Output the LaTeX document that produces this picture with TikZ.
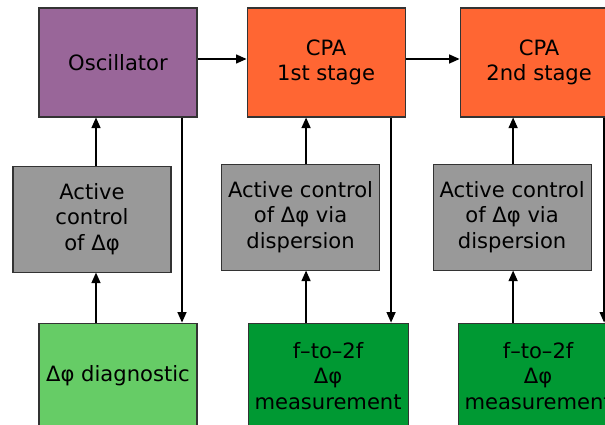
\documentclass[tikz,border=0pt]{standalone}
\usepackage{fontspec}
\setmainfont{DejaVu Sans}
\usepackage{xcolor}
\definecolor{plum}{HTML}{996699}
\definecolor{amp}{HTML}{FF6633}
\definecolor{ctrl}{HTML}{999999}
\definecolor{diaglight}{HTML}{66CC66}
\definecolor{diagdark}{HTML}{009933}
\definecolor{rim}{HTML}{333333}
\usetikzlibrary{positioning,arrows.meta}
\tikzset{
  block/.style={draw=rim, line width=0.6pt, align=center, font=\fontsize{12}{14.5}\selectfont,
    minimum width=3.16cm, inner sep=2pt},
  stage/.style={block, minimum height=2.18cm},
  osci/.style={stage, fill=plum},
  cpa/.style={stage, fill=amp},
  control/.style={block, fill=ctrl, minimum height=2.12cm},
  diag/.style={block, fill=diagdark, minimum height=2.12cm},
  edge/.style={-{Triangle[length=2.1mm,width=1.8mm]}, black, line width=0.8pt},
}
\begin{document}
\begin{tikzpicture}
  \useasboundingbox (0,0) rectangle (12.1,-8.5);
  % top row
  \node[osci] (osc) at (2.36,-1.25) {Oscillator};
  \node[cpa, right=0.98cm of osc] (cpaA) {CPA\\1st stage};
  \node[cpa, right=1.08cm of cpaA] (cpaB) {CPA\\2nd stage};
  % control boxes
  \node[control, below=0.96cm of osc, xshift=-0.52cm] (ctlO) {Active\\control\\of Δφ};
  \node[control, below=0.92cm of cpaA, xshift=-0.51cm] (ctlA) {Active control\\of Δφ via\\dispersion};
  \node[control, below=0.92cm of cpaB, xshift=-0.54cm] (ctlB) {Active control\\of Δφ via\\dispersion};
  % diagnostics
  \node[diag, fill=diaglight, below=1.0cm of ctlO, xshift=0.52cm] (dgO) {Δφ diagnostic};
  \node[diag, minimum width=3.2cm, below=1.04cm of ctlA, xshift=0.55cm] (dgA) {f–to–2f\\Δφ\\measurement};
  \node[diag, minimum width=3.2cm, below=1.04cm of ctlB, xshift=0.52cm] (dgB) {f–to–2f\\Δφ\\measurement};
  % arrow columns
  \coordinate (upO) at ([xshift=0.08cm]ctlO.north);
  \coordinate (dnO) at ([xshift=1.28cm]osc.south);
  \coordinate (upA) at ([xshift=0.11cm]ctlA.north);
  \coordinate (dnA) at ([xshift=1.3cm]cpaA.south);
  \coordinate (upB) at ([xshift=0.02cm]ctlB.north);
  \coordinate (dnB) at ([xshift=1.3cm]cpaB.south);
  \draw[edge] ([yshift=0.07cm]osc.east) -- ([yshift=0.07cm]cpaA.west);
  \draw[edge] ([yshift=0.07cm]cpaA.east) -- ([yshift=0.07cm]cpaB.west);
  \draw[edge] (upO) -- (upO |- osc.south); \draw[edge] (dgO.north -| upO) -- (ctlO.south -| upO);
  \draw[edge] (dnO) -- (dnO |- dgO.north);
  \draw[edge] (upA) -- (upA |- cpaA.south); \draw[edge] (dgA.north -| upA) -- (ctlA.south -| upA);
  \draw[edge] (dnA) -- (dnA |- dgA.north);
  \draw[edge] (upB) -- (upB |- cpaB.south); \draw[edge] (dgB.north -| upB) -- (ctlB.south -| upB);
  \draw[edge] (dnB) -- (dnB |- dgB.north);
\end{tikzpicture}
\end{document}
